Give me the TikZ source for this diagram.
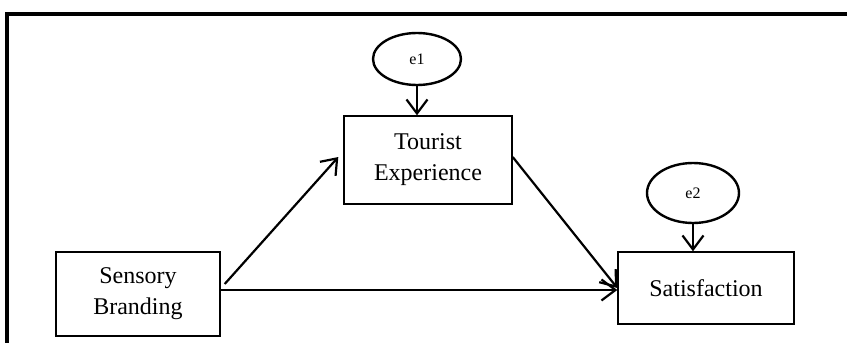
\documentclass[tikz,border=0pt]{standalone}
\usepackage{fontspec}
\setmainfont{Liberation Serif}
\usetikzlibrary{arrows.meta,calc,shapes.geometric}
\begin{document}
\begin{tikzpicture}[x=1pt,y=-1pt,
  box/.style={draw, line width=1.4pt, inner sep=0pt, align=center,
              font=\fontsize{24}{31}\selectfont},
  err/.style={draw, ellipse, line width=2.4pt, inner sep=0pt,
              font=\fontsize{16}{18}\selectfont},
  link/.style={line width=2.2pt, -{Straight Barb[length=14pt,width=21pt]}}]
\useasboundingbox (0,0) rectangle (847,343);
\fill[white] (0,0) rectangle (847,343);
% frame
\draw[line width=4pt, line join=miter] (6.5,343) -- (6.5,14) -- (847,14);

% variables
\node[box, minimum width=164pt, minimum height=84pt] (sb) at (138,294) {Sensory\\Branding};
\node[box, minimum width=168pt, minimum height=88pt] (te) at (428,160) {Tourist\\Experience};
\node[box, minimum width=176pt, minimum height=72pt] (sat) at (706,288) {Satisfaction};

% error terms
\node[err, minimum width=88pt, minimum height=52pt] (e1) at (417,59) {e1};
\node[err, minimum width=92pt, minimum height=60pt] (e2) at (693,193) {e2};

% paths
\draw[link] (e1.south) -- (e1.south |- te.north);
\draw[link] (e2.south) -- (e2.south |- sat.north);
\draw[link] ([shift={(4,-10)}]sb.east) -- ([shift={(-5,-3)}]te.west);
\draw[link] ([shift={(0,-3)}]te.east) -- (sat.west);
\coordinate (hs) at ([shift={(0,-4)}]sb.east);
\draw[link] (hs) -- (hs -| sat.west);
\end{tikzpicture}
\end{document}
